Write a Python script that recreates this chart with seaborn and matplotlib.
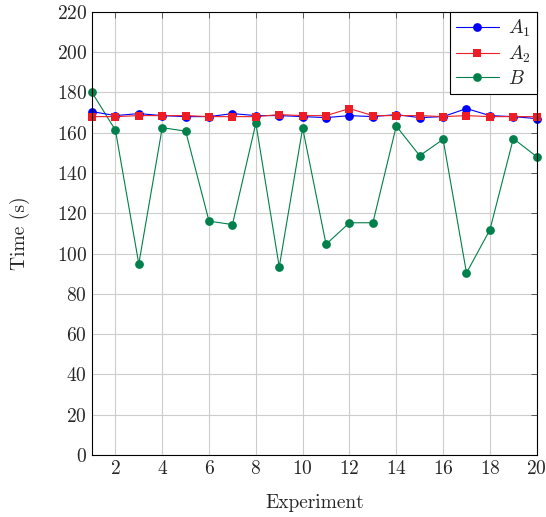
import matplotlib
matplotlib.use("Agg")
import matplotlib.pyplot as plt
import seaborn as sns
import pandas as pd

experiments = list(range(1, 21))
a1 = [170.5, 168.5, 169.5, 168.5, 168.0, 168.0, 169.5, 168.5, 168.5, 168.0,
      167.5, 168.5, 168.0, 169.0, 167.5, 168.0, 172.0, 168.5, 168.0, 167.0]
a2 = [168.0, 168.0, 168.5, 168.5, 168.5, 168.0, 168.0, 168.0, 169.0, 168.5,
      168.5, 172.0, 168.5, 168.5, 168.5, 168.0, 168.5, 168.0, 168.0, 168.0]
b = [180.0, 161.3, 94.9, 162.5, 160.8, 116.1, 114.4, 164.7, 93.4, 162.3,
     104.6, 115.3, 115.3, 163.3, 148.6, 156.7, 90.4, 111.8, 157.1, 148.1]
xticks = list(range(2, 21, 2))
yticks = list(range(0, 221, 20))

sns.set_style("white")
plt.rcParams["font.family"] = ["cmr10"]
plt.rcParams["mathtext.fontset"] = "cm"
plt.rcParams["axes.formatter.use_mathtext"] = True

fig = plt.figure(figsize=(5.46, 5.17), dpi=100)
ax = fig.add_axes([0.1685, 0.12, 0.8145, 0.857])

df1 = pd.DataFrame({"x": experiments, "y": a1})
df2 = pd.DataFrame({"x": experiments, "y": a2})
df3 = pd.DataFrame({"x": experiments, "y": b})

sns.lineplot(data=df1, x="x", y="y", ax=ax, color="#0000ff", marker="o",
             markersize=6.3, markeredgewidth=0, linewidth=0.8, label="$A_1$",
             zorder=3, clip_on=False)
sns.lineplot(data=df2, x="x", y="y", ax=ax, color="#ee1c25", marker="s",
             markersize=6.3, markeredgewidth=0, linewidth=0.8, label="$A_2$",
             zorder=4, clip_on=False)
sns.lineplot(data=df3, x="x", y="y", ax=ax, color="#00804a", marker="o",
             markersize=6.3, markeredgewidth=0, linewidth=0.8, label="$B$",
             zorder=2, clip_on=False)

ax.set_xlim(1, 20)
ax.set_ylim(0, 220)
ax.set_xticks(xticks)
ax.set_yticks(yticks)
ax.grid(True, color="#cccccc", linewidth=0.8)
ax.set_axisbelow(True)
ax.tick_params(direction="in", length=4, width=0.6, labelsize=14,
               top=True, right=True, color="#444444")
for s in ax.spines.values():
    s.set_color("black")
    s.set_linewidth(0.8)
    s.set_zorder(5)
ax.set_xlabel("Experiment", fontsize=14, labelpad=12)
ax.set_ylabel("Time (s)", fontsize=14, labelpad=19)

leg = ax.legend(loc="upper right", fontsize=14, frameon=True, fancybox=False,
                edgecolor="black", framealpha=1, borderpad=0.3, handlelength=2.2,
                handletextpad=0.5, labelspacing=0.25, borderaxespad=0)
leg.get_frame().set_linewidth(0.8)
leg.set_zorder(10)

fig.savefig("out.png", dpi=100)
